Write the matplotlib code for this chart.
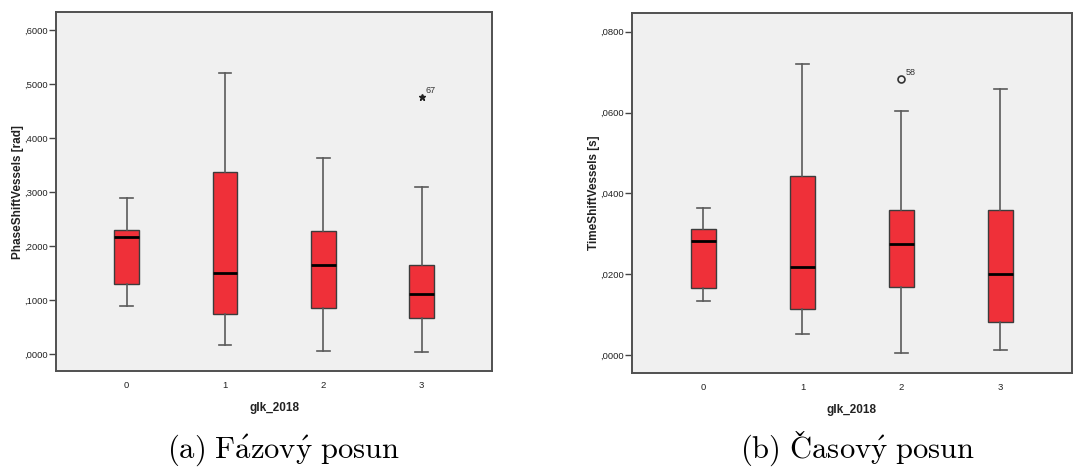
import matplotlib
matplotlib.use('Agg')
import matplotlib.pyplot as plt

plt.rcParams['mathtext.fontset'] = 'cm'

# groups on the x axis
groups = ['0', '1', '2', '3']

# phase shift (rad): whisker low, q1, median, q3, whisker high
phase_low = [0.089, 0.017, 0.006, 0.005]
phase_q1 = [0.130, 0.075, 0.085, 0.068]
phase_med = [0.217, 0.151, 0.165, 0.112]
phase_q3 = [0.230, 0.338, 0.228, 0.166]
phase_high = [0.290, 0.520, 0.364, 0.310]
phase_outliers = [[], [], [], [0.476]]
phase_outlier_ids = [[], [], [], ['67']]

# time shift (s)
time_low = [0.0133, 0.0053, 0.0005, 0.0012]
time_q1 = [0.0166, 0.0115, 0.0168, 0.0081]
time_med = [0.0282, 0.0219, 0.0275, 0.0200]
time_q3 = [0.0311, 0.0443, 0.0360, 0.0358]
time_high = [0.0363, 0.0720, 0.0604, 0.0658]
time_outliers = [[], [], [0.0683], []]
time_outlier_ids = [[], [], ['58'], []]

phase_ticks = [0.0, 0.1, 0.2, 0.3, 0.4, 0.5, 0.6]
time_ticks = [0.0, 0.02, 0.04, 0.06, 0.08]

RED = '#EF3039'
EDGE = '#3c3c3c'
WHISK = '#5a5a5a'


def draw_panel(ax, low, q1, med, q3, high, outl, ids, ticks, ylim, ylabel, marker):
    stats = []
    for i in range(len(groups)):
        stats.append({'whislo': low[i], 'q1': q1[i], 'med': med[i], 'q3': q3[i],
                      'whishi': high[i], 'fliers': outl[i], 'label': groups[i]})
    ax.bxp(stats, positions=range(len(groups)), widths=0.25, patch_artist=True,
           showfliers=True,
           boxprops=dict(facecolor=RED, edgecolor=EDGE, linewidth=1.0),
           medianprops=dict(color='black', linewidth=2.0),
           whiskerprops=dict(color=WHISK, linewidth=1.2),
           capprops=dict(color=WHISK, linewidth=1.2),
           capwidths=0.13,
           flierprops=marker)
    for i in range(len(groups)):
        for v, t in zip(outl[i], ids[i]):
            ax.annotate(t, (i, v), xytext=(3, 3), textcoords='offset points',
                        fontsize=6.5, color='#333333', family='Liberation Sans')
    ax.set_facecolor('#F0F0F0')
    ax.set_xlim(-0.72, 3.72)
    ax.set_ylim(*ylim)
    ax.set_yticks(ticks)
    # SPSS style labels without leading zero: ,0200
    ax.set_yticklabels([',' + ('%.4f' % t).split('.')[1] for t in ticks])
    ax.tick_params(axis='y', length=5, width=1, color='#444444', pad=1, labelsize=6.8, labelcolor='#222222')
    ax.tick_params(axis='x', length=0, pad=7, labelsize=6.8, labelcolor='#222222')
    for lab in ax.get_xticklabels() + ax.get_yticklabels():
        lab.set_family('Liberation Sans')
    for s in ax.spines.values():
        s.set_color('#505050')
        s.set_linewidth(1.4)
    ax.set_ylabel(ylabel, fontsize=8.5, fontweight='bold', family='Liberation Sans', labelpad=0, color='#222222')
    ax.set_xlabel('glk_2018', fontsize=8.5, fontweight='bold', family='Liberation Sans', labelpad=9, color='#222222')


fig = plt.figure(figsize=(10.75, 4.68), dpi=100)
ax1 = fig.add_axes([0.052, 0.207, 0.406, 0.767])
ax2 = fig.add_axes([0.588, 0.203, 0.409, 0.769])

draw_panel(ax1, phase_low, phase_q1, phase_med, phase_q3, phase_high,
           phase_outliers, phase_outlier_ids, phase_ticks, (-0.031, 0.633),
           'PhaseShiftVessels [rad]',
           dict(marker='*', markerfacecolor='#222222', markeredgecolor='#222222', markersize=5))
draw_panel(ax2, time_low, time_q1, time_med, time_q3, time_high,
           time_outliers, time_outlier_ids, time_ticks, (-0.0044, 0.0846),
           'TimeShiftVessels [s]',
           dict(marker='o', markerfacecolor='none', markeredgecolor='#333333', markersize=5, markeredgewidth=1.2))

CAP_SIZE = 22
base_y = 0.022
fig.text(0.264, base_y, r'$\mathrm{(a)\ F\acute{a}zov\acute{y}\ posun}$', ha='center', va='baseline', fontsize=CAP_SIZE)
cap_b = fig.text(0.798, base_y, r'$\mathrm{(b)\ Casov\acute{y}\ posun}$', ha='center', va='baseline', fontsize=CAP_SIZE)

# mathtext puts \check in the wrong spot, so the caron over C is placed by hand
r = fig.canvas.get_renderer()
bb = cap_b.get_window_extent(r)
tmp = fig.text(0, 0, r'$\mathrm{(b)\ C}$', fontsize=CAP_SIZE)
w_pre = tmp.get_window_extent(r).width
tmp.set_text(r'$\mathrm{C}$')
w_c = tmp.get_window_extent(r).width
tmp.remove()
cx = (bb.x0 + w_pre - w_c / 2 + 1) / fig.bbox.width
fig.text(cx, base_y + 0.019, r'$\check{}$', ha='center', va='baseline', fontsize=CAP_SIZE)

fig.savefig('out.png', dpi=100)
